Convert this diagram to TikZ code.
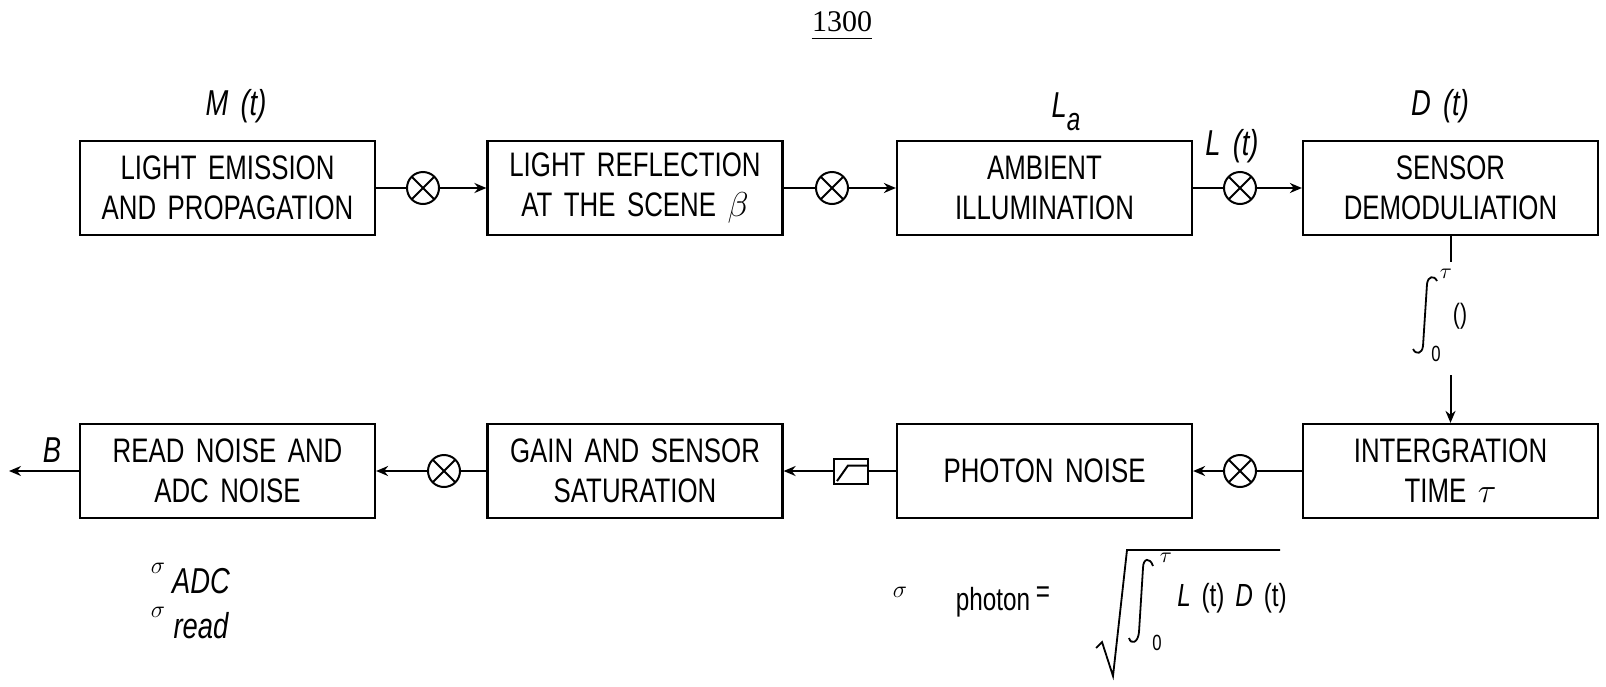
\documentclass[tikz,border=0pt]{standalone}
\usepackage{fontspec}
\setmainfont{Liberation Sans}[FakeStretch=0.76, WordSpace=1.6]
\newfontfamily\titlefont{Liberation Serif}
\usetikzlibrary{arrows.meta}
\tikzset{
  blk/.style={draw, line width=1.1pt, minimum width=147.5pt, minimum height=47pt,
    align=center, inner sep=0pt, font=\fontsize{17}{20}\selectfont},
  mult/.style={draw, circle, line width=1pt, minimum size=16pt, inner sep=0pt,
    path picture={\draw[line width=1pt]
      (path picture bounding box.north west)--(path picture bounding box.south east)
      (path picture bounding box.north east)--(path picture bounding box.south west);}},
  satbox/.style={draw, line width=1pt, minimum width=17pt, minimum height=12.5pt, inner sep=0pt,
    path picture={\draw[line width=1pt]
      ([xshift=1.5pt,yshift=1.2pt]path picture bounding box.south west)
      -- ([xshift=7pt,yshift=-3.5pt]path picture bounding box.north west)
      -- ([yshift=-3.5pt]path picture bounding box.north east);}},
  conn/.style={line width=1pt},
  arr/.style={line width=1pt, -{Stealth[length=6pt,width=5pt]}},
  lab/.style={inner sep=0pt, font=\fontsize{18}{20}\selectfont\itshape},
  sml/.style={inner sep=0pt, font=\fontsize{11}{13}\selectfont},
  txt/.style={inner sep=0pt, font=\fontsize{16}{18}\selectfont},
  integ/.style={line width=0.9pt},
}
\begin{document}
\begin{tikzpicture}[x=0.5pt,y=-0.5pt]
\useasboundingbox (0,0) rectangle (1606,686);
% title
\node[inner sep=0pt, font=\titlefont\fontsize{15}{17}\selectfont] (title) at (842,22) {1300};
\draw[line width=0.9pt] ([yshift=-3pt]title.south west) -- ([yshift=-3pt]title.south east);
% top row
\node[blk] (b1) at (227.5,188) {LIGHT EMISSION\\AND PROPAGATION};
\node[blk] (b2) at (635,188) {LIGHT REFLECTION\\AT THE SCENE $\beta$};
\node[blk] (b3) at (1044.5,188) {AMBIENT\\ILLUMINATION};
\node[blk] (b4) at (1450.5,188) {SENSOR\\DEMODULIATION};
\node[mult] (m1) at (423,188) {};
\node[mult] (m2) at (832,188) {};
\node[mult] (m3) at (1240,188) {};
\draw[conn] (b1) -- (m1);
\draw[arr] (m1) -- (b2);
\draw[conn] (b2) -- (m2);
\draw[arr] (m2) -- (b3);
\draw[conn] (b3) -- (m3);
\draw[arr] (m3) -- (b4);
% top labels
\node[lab] (lM) at (236,106) {M (t)};
\node[lab] (lLa) at (1066,112) {L\raisebox{-0.35em}{\fontsize{16}{18}\selectfont a}};
\node[lab] (lLt) at (1232,146) {L (t)};
\node[lab] (lD) at (1440,106) {D (t)};
% integral connector
\coordinate (i1) at (1450.5,262);
\coordinate (i2) at (1450.5,375);
\draw[conn] (b4) -- (i1);
\draw[integ] (1437,281) .. controls (1434,275) and (1428,276) .. (1427,284)
  -- (1423,346) .. controls (1422,354) and (1416,355) .. (1413,349);
\node[sml] (itau) at (1446,274) {$\tau$};
\node[sml] (izero) at (1436,354) {0};
\node[sml, font=\fontsize{14}{16}\selectfont] (ipar) at (1460,316) {()};
% bottom row
\node[blk] (b5) at (1450.5,471) {INTERGRATION\\TIME $\tau$};
\node[blk] (b6) at (1044.5,471) {PHOTON NOISE};
\node[blk] (b7) at (635,471) {GAIN AND SENSOR\\SATURATION};
\node[blk] (b8) at (227.5,471) {READ NOISE AND\\ADC NOISE};
\draw[arr] (i2) -- (b5);
\node[mult] (m4) at (1240,471) {};
\node[satbox] (sat) at (851,471) {};
\node[mult] (m5) at (444,471) {};
\coordinate (out) at (9,471);
\draw[conn] (b5) -- (m4);
\draw[arr] (m4) -- (b6);
\draw[conn] (b6) -- (sat);
\draw[arr] (sat) -- (b7);
\draw[conn] (b7) -- (m5);
\draw[arr] (m5) -- (b8);
\draw[arr] (b8) -- (out);
\node[lab] (lB) at (52,450) {B};
% sigma labels
\node[sml, font=\fontsize{12}{14}\selectfont] (s1) at (158,568) {$\sigma$};
\node[lab] (sADC) at (201,581) {ADC};
\node[sml, font=\fontsize{12}{14}\selectfont] (s2) at (158,612) {$\sigma$};
\node[lab] (sread) at (201,626) {read};
% photon formula
\node[sml, font=\fontsize{13}{15}\selectfont] (ps) at (900,592) {$\sigma$};
\node[txt] (pph) at (993,602) {photon};
\node[txt] (peq) at (1043,595) {=};
\draw[integ] (1096,648) -- (1102,642) -- (1113,676) -- (1127,550) -- (1280,550);
\draw[integ] (1153,566) .. controls (1150,557) and (1143,558) .. (1143,568)
  -- (1139,632) .. controls (1138,643) and (1131,645) .. (1129,638);
\node[sml] (ptau) at (1166,558) {$\tau$};
\node[sml] (pzero) at (1157,643) {0};
\node[txt] (pL) at (1232,598) {\textit{L} (t) \textit{D} (t)};
\end{tikzpicture}
\end{document}
